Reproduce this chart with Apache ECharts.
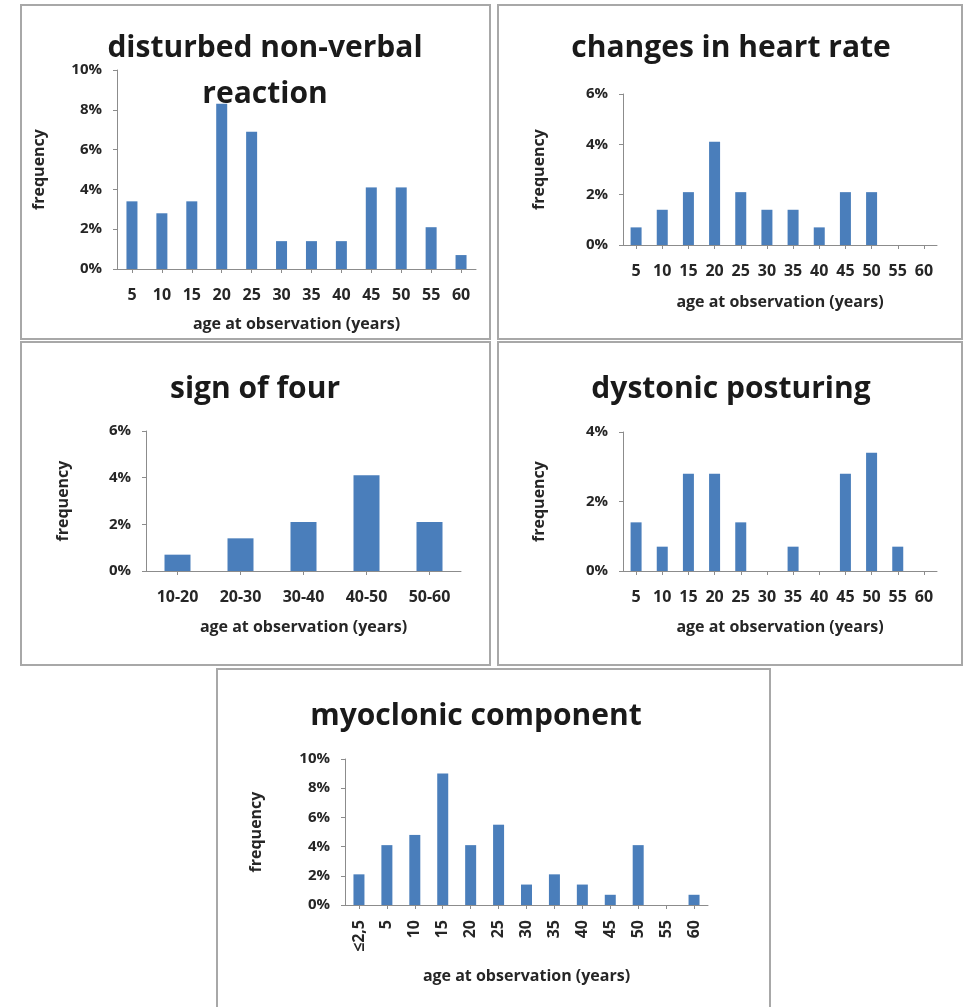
<!DOCTYPE html>
<html>
<head>
<meta charset="utf-8">
<script src="https://cdn.jsdelivr.net/npm/echarts@6/dist/echarts.min.js"></script>
<style>
html,body{margin:0;padding:0;background:#fff;}
#chart{width:973px;height:1007px;}
</style>
</head>
<body>
<div id="chart"></div>
<script>
// ---- data ----
const ages = ['5','10','15','20','25','30','35','40','45','50','55','60'];
const ageBands = ['10-20','20-30','30-40','40-50','50-60'];
const myoAges = ['\u22642,5','5','10','15','20','25','30','35','40','45','50','55','60'];

const nonVerbal = [3.4, 2.8, 3.4, 8.3, 6.9, 1.4, 1.4, 1.4, 4.1, 4.1, 2.1, 0.7];
const heartRate = [0.7, 1.4, 2.1, 4.1, 2.1, 1.4, 1.4, 0.7, 2.1, 2.1, 0, 0];
const signOfFour = [0.7, 1.4, 2.1, 4.1, 2.1];
const dystonic = [1.4, 0.7, 2.8, 2.8, 1.4, 0, 0.7, 0, 2.8, 3.4, 0.7, 0];
const myoclonic = [2.1, 4.1, 4.8, 9.0, 4.1, 5.5, 1.4, 2.1, 1.4, 0.7, 4.1, 0, 0.7];

const titles = ['disturbed non-verbal\nreaction', 'changes in heart rate', 'sign of four', 'dystonic posturing', 'myoclonic component'];
const yMax = [10, 6, 6, 4, 10];
const yTickStep = 2;
const xName = 'age at observation (years)';
const yName = 'frequency';

// ---- layout ----
const FONT = '"Open Sans", Lato, sans-serif';
const BLUE = '#4a7ebb';
const AXIS = '#8c8c8c';
const TXT = '#262626';

const grids = [
  {left: 117, top: 70, width: 359, height: 199},
  {left: 623, top: 94, width: 314, height: 151},
  {left: 146, top: 431, width: 315, height: 140},
  {left: 623, top: 432, width: 314, height: 139},
  {left: 345, top: 759, width: 363, height: 146}
];
const cats = [ages, ages, ageBands, ages, myoAges];
const series = [nonVerbal, heartRate, signOfFour, dystonic, myoclonic];
const barW = [11, 11, 26, 11, 11];
const yGap = [70, 76, 75, 76, 81];
const xGap = [47, 49, 48, 48, 63];
const titlePos = [
  {x: 260, y: 20}, {x: 726, y: 20}, {x: 250, y: 361}, {x: 726, y: 361}, {x: 471, y: 688}
];
const panels = [
  [21, 5, 469, 334], [498, 5, 464, 334], [21, 342, 469, 323], [498, 342, 464, 323], [217, 669, 553, 345]
];

const option = {
  animation: false,
  backgroundColor: '#fff',
  title: titles.map((t, i) => ({
    text: t,
    left: titlePos[i].x,
    top: titlePos[i].y,
    textAlign: 'center',
    textStyle: {fontFamily: FONT, fontSize: 30, fontWeight: 'bold', color: '#1a1a1a', lineHeight: 46}
  })),
  graphic: panels.map(p => ({
    type: 'rect', silent: true, z: -10,
    shape: {x: p[0], y: p[1], width: p[2], height: p[3]},
    style: {fill: 'none', stroke: '#a8a8a8', lineWidth: 2}
  })),
  grid: grids.map(g => Object.assign({containLabel: false}, g)),
  xAxis: cats.map((c, i) => ({
    type: 'category', gridIndex: i, data: c,
    name: xName, nameLocation: 'middle', nameGap: xGap[i],
    nameTextStyle: {fontFamily: FONT, fontSize: 16, fontWeight: 'bold', color: TXT},
    axisLine: {lineStyle: {color: AXIS, width: 1}},
    axisTick: {show: true, alignWithLabel: true, length: 4, lineStyle: {color: AXIS}},
    axisLabel: {
      interval: 0, fontFamily: FONT, fontSize: 16, fontWeight: 'bold', color: TXT,
      margin: i === 4 ? 15 : 18, rotate: i === 4 ? 90 : 0
    }
  })),
  yAxis: yMax.map((m, i) => ({
    type: 'value', gridIndex: i, min: 0, max: m, interval: yTickStep,
    name: yName, nameLocation: 'middle', nameGap: yGap[i], nameRotate: 90,
    nameTextStyle: {fontFamily: FONT, fontSize: 16, fontWeight: 'bold', color: TXT},
    axisLine: {show: true, lineStyle: {color: AXIS, width: 1}},
    axisTick: {show: true, length: 4, lineStyle: {color: AXIS}},
    splitLine: {show: false},
    axisLabel: {formatter: '{value}%', fontFamily: FONT, fontSize: 15, fontWeight: 'bold', color: TXT, margin: 15}
  })),
  series: series.map((d, i) => ({
    type: 'bar', xAxisIndex: i, yAxisIndex: i, data: d,
    barWidth: barW[i], itemStyle: {color: BLUE}
  }))
};

const chart = echarts.init(document.getElementById('chart'), null, {renderer: 'canvas'});
chart.setOption(option);
</script>
</body>
</html>
